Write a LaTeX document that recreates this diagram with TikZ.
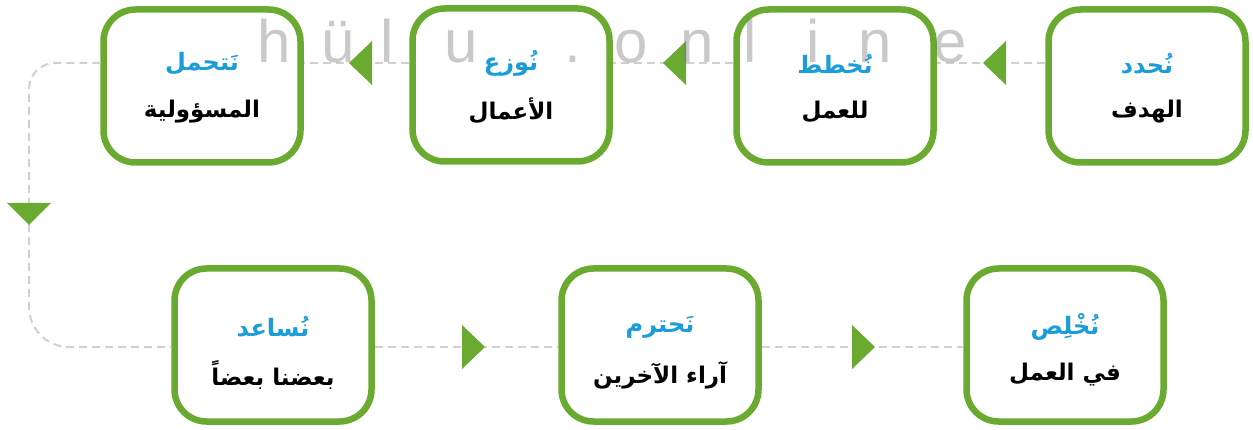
\documentclass[tikz,border=0pt]{standalone}
\usepackage{fontspec}
\TeXXeTstate=1
\newfontfamily\arabicfont[Script=Arabic]{DejaVu Sans}
\newfontfamily\wmfont{Liberation Sans}
\usetikzlibrary{calc}
\definecolor{boxgreen}{RGB}{107,170,48}
\definecolor{wordblue}{RGB}{27,157,217}
\definecolor{dashgray}{RGB}{208,208,208}
\definecolor{wmgray}{RGB}{120,120,120}
\tikzset{
  stepbox/.style={draw=boxgreen, line width=6.5pt, rounded corners=32pt, fill=white,
    minimum width=197pt, minimum height=153pt, inner sep=0pt},
  flowline/.style={draw=dashgray, line width=2pt, dash pattern=on 8pt off 5pt},
  tri/.style={fill=boxgreen, draw=none},
  blueword/.style={text=wordblue, inner sep=0pt, font=\arabicfont\bfseries\fontsize{24}{28}\selectfont},
  blackword/.style={text=black, inner sep=0pt, font=\arabicfont\bfseries\fontsize{23}{27}\selectfont},
  wm/.style={text=wmgray, text opacity=0.4, inner sep=0pt, anchor=base, font=\wmfont\fontsize{60}{60}\selectfont},
}
\begin{document}
\begin{tikzpicture}[x=1pt,y=-1pt]
\useasboundingbox (0,0) rectangle (1253,430);
% guide coordinates for the two flow lines
\coordinate (ty) at (0,63);
\coordinate (by) at (0,347);
\coordinate (cornerT) at (29,63);
\coordinate (cornerB) at (29,347);
% boxes
\node[stepbox] (b1) at (1147,86) {};
\node[stepbox] (b2) at (835,86) {};
\node[stepbox] (b3) at (511,85) {};
\node[stepbox] (b4) at (202,86) {};
\node[stepbox] (b5) at (1065,345) {};
\node[stepbox] (b6) at (660,345) {};
\node[stepbox] (b7) at (273,345) {};
% connectors
\draw[flowline] (b1.west |- ty) -- (b2.east |- ty);
\draw[flowline] (b2.west |- ty) -- (b3.east |- ty);
\draw[flowline] (b3.west |- ty) -- (b4.east |- ty);
\draw[flowline] (b4.west |- ty) [rounded corners=26pt] -- (cornerT) [rounded corners=40pt] -- (cornerB) [sharp corners] -- (b7.west |- by);
\draw[flowline] (b7.east |- by) -- (b6.west |- by);
\draw[flowline] (b6.east |- by) -- (b5.west |- by);
% arrowheads
\coordinate (a1) at (994,63);
\coordinate (a2) at (674,63);
\coordinate (a3) at (360,63);
\coordinate (a4) at (29,214);
\coordinate (a5) at (473,347);
\coordinate (a6) at (863,347);
\fill[tri] ($(a1)+(-11,0)$) -- ($(a1)+(12,-22)$) -- ($(a1)+(12,22)$) -- cycle;
\fill[tri] ($(a2)+(-11,0)$) -- ($(a2)+(12,-22)$) -- ($(a2)+(12,22)$) -- cycle;
\fill[tri] ($(a3)+(-11,0)$) -- ($(a3)+(12,-22)$) -- ($(a3)+(12,22)$) -- cycle;
\fill[tri] ($(a4)+(0,11)$) -- ($(a4)+(-22,-11)$) -- ($(a4)+(22,-11)$) -- cycle;
\fill[tri] ($(a5)+(12,0)$) -- ($(a5)+(-11,-22)$) -- ($(a5)+(-11,22)$) -- cycle;
\fill[tri] ($(a6)+(12,0)$) -- ($(a6)+(-11,-22)$) -- ($(a6)+(-11,22)$) -- cycle;
% texts
\node[blueword] (t1a) at ($(b1)+(0,-22)$) {\beginR نُحدد\endR};
\node[blackword] (t1b) at ($(b1)+(0,26)$) {\beginR الهدف\endR};
\node[blueword] (t2a) at ($(b2)+(0,-22)$) {\beginR نُخطط\endR};
\node[blackword] (t2b) at ($(b2)+(0,26)$) {\beginR للعمل\endR};
\node[blueword] (t3a) at ($(b3)+(0,-22)$) {\beginR نُوزع\endR};
\node[blackword] (t3b) at ($(b3)+(0,26)$) {\beginR الأعمال\endR};
\node[blueword] (t4a) at ($(b4)+(0,-22)$) {\beginR نَتحمل\endR};
\node[blackword] (t4b) at ($(b4)+(0,26)$) {\beginR المسؤولية\endR};
\node[blueword] (t5a) at ($(b5)+(0,-18)$) {\beginR نُخْلِص\endR};
\node[blackword] (t5b) at ($(b5)+(0,30)$) {\beginR في العمل\endR};
\node[blueword] (t6a) at ($(b6)+(0,-18)$) {\beginR نَحترم\endR};
\node[blackword] (t6b) at ($(b6)+(0,30)$) {\beginR آراء الآخرين\endR};
\node[blueword] (t7a) at ($(b7)+(0,-18)$) {\beginR نُساعد\endR};
\node[blackword] (t7b) at ($(b7)+(0,30)$) {\beginR بعضنا بعضاً\endR};
% watermark
\foreach \ch/\x [count=\i] in {h/274, \"u/338, l/387, u/461, ./573, o/631, n/697, l/750, i/813, n/875, e/950}
  \node[wm] (w\i) at (\x,63) {\ch};
\end{tikzpicture}
\end{document}
